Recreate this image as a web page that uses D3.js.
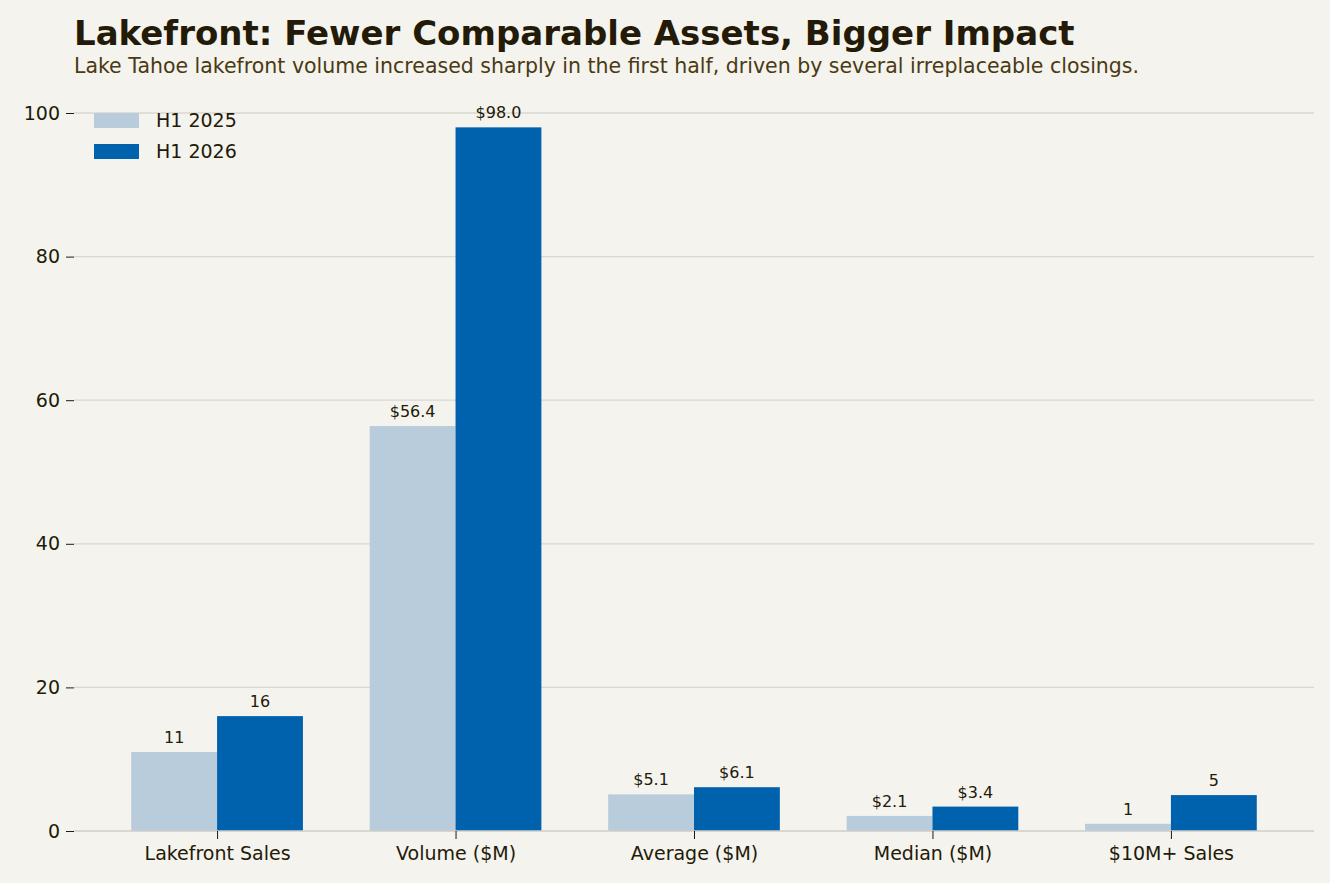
<!DOCTYPE html>
<html><head><meta charset="utf-8">
<script src="https://cdn.jsdelivr.net/npm/d3@7"></script>
<style>body{margin:0;background:#f4f3ee}svg{display:block;font-family:"DejaVu Sans",sans-serif}</style>
</head><body><svg id="c"></svg>
<script>
const categories=['Lakefront Sales','Volume ($M)','Average ($M)','Median ($M)','$10M+ Sales'];
const h1_2025=[11,56.4,5.1,2.1,1];
const h1_2026=[16,98.0,6.1,3.4,5];
const labels2025=['11','$56.4','$5.1','$2.1','1'];
const labels2026=['16','$98.0','$6.1','$3.4','5'];
const yTicks=[0,20,40,60,80,100];
const series=[{name:'H1 2025',vals:h1_2025,labs:labels2025,color:'#b9ccdb',off:-0.18},
              {name:'H1 2026',vals:h1_2026,labs:labels2026,color:'#0061ad',off:0.18}];

const W=1330,H=883,L=74,R=1314,B=831;
const svg=d3.select('#c').attr('width',W).attr('height',H);
svg.append('rect').attr('width',W).attr('height',H).attr('fill','#f4f3ee');
const x=d3.scaleLinear().domain([-0.6,4.6]).range([L,R]);
const y=d3.scaleLinear().domain([0,102.9]).range([B,B-7.18*102.9]);
const bw=x(0.36)-x(0);

svg.append('g').selectAll('line').data(yTicks.slice(1)).join('line')
  .attr('x1',L).attr('x2',R).attr('y1',d=>y(d)).attr('y2',d=>y(d))
  .attr('stroke','#d8d7d2').attr('stroke-width',1.3);

const ya=svg.append('g').attr('transform',`translate(${L},0)`)
  .call(d3.axisLeft(y).tickValues(yTicks).tickSize(8).tickPadding(6));
ya.select('.domain').remove();
ya.selectAll('text').attr('font-size',19).attr('fill','#231a08').attr('font-family','DejaVu Sans');
ya.selectAll('line').attr('stroke','#231a08');

series.forEach(s=>{
  const g=svg.append('g');
  g.selectAll('rect').data(s.vals).join('rect')
    .attr('x',(d,i)=>x(i+s.off)-bw/2).attr('width',bw)
    .attr('y',d=>y(d)).attr('height',d=>B-y(d)).attr('fill',s.color);
  g.selectAll('text').data(s.vals).join('text')
    .attr('x',(d,i)=>x(i+s.off)).attr('y',d=>y(d)-9)
    .attr('text-anchor','middle').attr('font-size',16).attr('fill','#231a08')
    .text((d,i)=>s.labs[i]);
});

const xa=svg.append('g').attr('transform',`translate(0,${B})`)
  .call(d3.axisBottom(x).tickValues(d3.range(categories.length)).tickFormat(i=>categories[i]).tickSize(8).tickPadding(8));
xa.select('.domain').attr('d',`M${L},0H${R}`).attr('stroke','#cfceca').attr('stroke-width',1.5);
xa.selectAll('text').attr('font-size',19).attr('fill','#231a08').attr('font-family','DejaVu Sans');
xa.selectAll('line').attr('stroke','#231a08');

const lg=svg.append('g').selectAll('g').data(series).join('g')
  .attr('transform',(d,i)=>`translate(94,${113+i*31})`);
lg.append('rect').attr('width',45).attr('height',15).attr('fill',d=>d.color);
lg.append('text').attr('x',62).attr('y',14).attr('font-size',19).attr('fill','#231a08').text(d=>d.name);

svg.append('text').attr('x',74).attr('y',45).attr('font-size',34).attr('font-weight','bold')
  .attr('fill','#231a08').text('Lakefront: Fewer Comparable Assets, Bigger Impact');
svg.append('text').attr('x',74).attr('y',73).attr('font-size',20.5).attr('fill','#4a3a12')
  .text('Lake Tahoe lakefront volume increased sharply in the first half, driven by several irreplaceable closings.');
</script></body></html>
